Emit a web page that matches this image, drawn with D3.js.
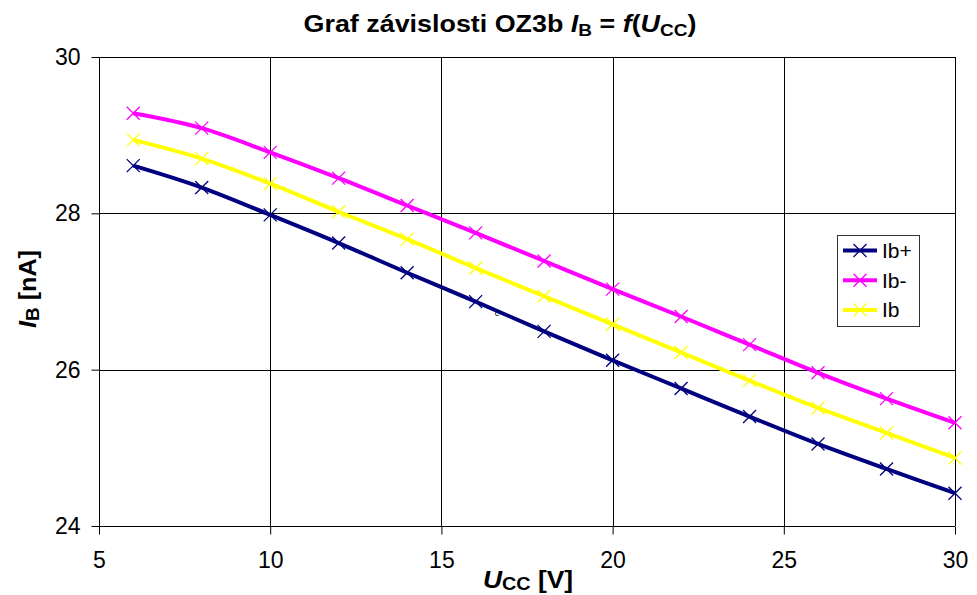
<!DOCTYPE html>
<html><head><meta charset="utf-8">
<script src="https://cdn.jsdelivr.net/npm/d3@7"></script>
<style>
html,body{margin:0;padding:0;background:#fff;}
svg{display:block;font-family:"Liberation Sans",Arial,sans-serif;}
</style></head>
<body>
<svg id="chart" width="977" height="595"></svg>
<script>
const uccValues = [6, 8, 10, 12, 14, 16, 18, 20, 22, 24, 26, 28, 30];
const ibPlus  = [28.61, 28.33, 27.98, 27.62, 27.24, 26.87, 26.49, 26.12, 25.76, 25.40, 25.05, 24.73, 24.42];
const ibMinus = [29.28, 29.09, 28.78, 28.45, 28.10, 27.75, 27.39, 27.03, 26.68, 26.32, 25.96, 25.63, 25.32];
const ibAvg   = [28.94, 28.70, 28.38, 28.02, 27.67, 27.30, 26.94, 26.58, 26.22, 25.86, 25.51, 25.19, 24.87];
const seriesNames = ["Ib+", "Ib-", "Ib"];
const seriesColors = ["#000080", "#FF00FF", "#FFFF00"];
const xTicks = [5, 10, 15, 20, 25, 30];
const yTicks = [24, 26, 28, 30];

const series = [ibPlus, ibMinus, ibAvg].map((vals, i) => ({
  name: seriesNames[i], color: seriesColors[i],
  pts: vals.map((v, j) => ({x: uccValues[j], y: v}))
}));

const svg = d3.select("#chart");
const L = 99, R = 955, T = 57, B = 526;
const x = d3.scaleLinear().domain([5, 30]).range([L, R]);
const y = d3.scaleLinear().domain([24, 30]).range([B, T]);

// grid
const g = svg.append("g");
g.selectAll("line.vg").data(xTicks).join("line")
  .attr("x1", d => Math.round(x(d)) + 0.5).attr("x2", d => Math.round(x(d)) + 0.5)
  .attr("y1", T).attr("y2", B).attr("stroke", "#000").attr("stroke-width", 1);
g.selectAll("line.hg").data(yTicks).join("line")
  .attr("y1", d => Math.round(y(d)) + 0.5).attr("y2", d => Math.round(y(d)) + 0.5)
  .attr("x1", L).attr("x2", R).attr("stroke", "#000").attr("stroke-width", 1);

// axes
const xAxis = d3.axisBottom(x).tickValues(xTicks).tickSize(8).tickPadding(17).tickFormat(d3.format("d"));
const yAxis = d3.axisLeft(y).tickValues(yTicks).tickSize(8).tickPadding(11).tickFormat(d3.format("d"));
const gx = svg.append("g").attr("transform", `translate(0,${Math.round(B)+0.5})`).call(xAxis);
const gy = svg.append("g").attr("transform", `translate(${L+0.5},0)`).call(yAxis);
[gx, gy].forEach(a => {
  a.select(".domain").attr("stroke", "#000");
  a.selectAll(".tick line").attr("stroke", "#000");
  a.selectAll(".tick text").attr("font-size", 23).attr("fill", "#000")
    .attr("font-family", "'Liberation Sans', Arial, sans-serif");
});
gy.select(".domain").attr("d", `M0,${T}V${B}`);
gx.select(".domain").attr("d", `M${L},0H${R}`);

// lines
const line = d3.line().x(d => x(d.x)).y(d => y(d.y)).curve(d3.curveCardinal.tension(0));
const ms = 6.5;
series.forEach(s => {
  svg.append("path").datum(s.pts).attr("d", line)
    .attr("fill", "none").attr("stroke", s.color).attr("stroke-width", 4)
    .attr("stroke-linejoin", "round");
  svg.append("g").selectAll("path").data(s.pts).join("path")
    .attr("d", d => { const cx = x(d.x), cy = y(d.y);
      return `M${cx-ms},${cy-ms}L${cx+ms},${cy+ms}M${cx-ms},${cy+ms}L${cx+ms},${cy-ms}`; })
    .attr("stroke", s.color).attr("stroke-width", 1.3).attr("fill", "none");
});

// stray mark in the original
svg.append("text").attr("x", 497).attr("y", 316).attr("font-size", 9)
  .attr("text-anchor", "middle").attr("fill", "#000").text("c");

// legend
const lg = svg.append("g");
lg.append("rect").attr("x", 837.5).attr("y", 235.5).attr("width", 82).attr("height", 91)
  .attr("fill", "#fff").attr("stroke", "#333").attr("stroke-width", 1);
series.forEach((s, i) => {
  const ly = 250.5 + i * 29.7;
  lg.append("line").attr("x1", 843).attr("x2", 877).attr("y1", ly).attr("y2", ly)
    .attr("stroke", s.color).attr("stroke-width", 4);
  lg.append("path").attr("d", `M${860-ms},${ly-ms}L${860+ms},${ly+ms}M${860-ms},${ly+ms}L${860+ms},${ly-ms}`)
    .attr("stroke", s.color).attr("stroke-width", 1.3);
  lg.append("text").attr("x", 882).attr("y", ly + 7.5).attr("font-size", 21).attr("fill", "#000").text(s.name);
});

// title
const title = svg.append("text").attr("transform", "translate(500,32) scale(1.12,1)").attr("text-anchor", "middle")
  .attr("font-size", 24).attr("font-weight", "bold").attr("fill", "#000");
title.append("tspan").text("Graf závislosti OZ3b ");
title.append("tspan").attr("font-style", "italic").text("I");
title.append("tspan").attr("font-size", 17).attr("dy", 4).text("B");
title.append("tspan").attr("dy", -4).text(" = ");
title.append("tspan").attr("font-style", "italic").text("f");
title.append("tspan").text("(");
title.append("tspan").attr("font-style", "italic").text("U");
title.append("tspan").attr("font-size", 17).attr("dy", 4).text("CC");
title.append("tspan").attr("dy", -4).text(")");

// x label
const xl = svg.append("text").attr("transform", "translate(528,588) scale(1.1,1)").attr("text-anchor", "middle")
  .attr("font-size", 24).attr("font-weight", "bold").attr("fill", "#000");
xl.append("tspan").attr("font-style", "italic").text("U");
xl.append("tspan").attr("font-size", 18).attr("dy", 2).text("CC");
xl.append("tspan").attr("dy", -2).text(" [V]");

// y label
const yl = svg.append("text").attr("transform", "translate(36,289) rotate(-90) scale(1.05,1)").attr("text-anchor", "middle")
  .attr("font-size", 24).attr("font-weight", "bold").attr("fill", "#000");
yl.append("tspan").attr("font-style", "italic").text("I");
yl.append("tspan").attr("font-size", 18).attr("dy", 3).text("B");
yl.append("tspan").attr("dy", -3).text(" [nA]");
</script>
</body></html>
